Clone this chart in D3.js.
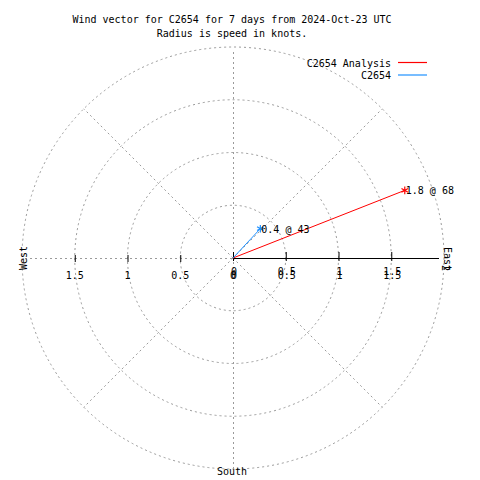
<!DOCTYPE html>
<html>
<head>
<meta charset="utf-8">
<script src="https://cdn.jsdelivr.net/npm/d3@7"></script>
<style>
html,body{margin:0;padding:0;background:#fff;}
text{font-family:"DejaVu Sans Mono",monospace;font-size:10px;fill:#000;}
</style>
</head>
<body>
<svg id="chart" width="480" height="480"></svg>
<script>
// ---- data ----
const titleLines = ["Wind vector for C2654 for 7 days from 2024-Oct-23 UTC", "Radius is speed in knots."];
const seriesNames = ["C2654 Analysis", "C2654"];
const seriesSpeed = [1.75, 0.38];      // knots
const seriesDir = [68.5, 43];          // degrees, compass (clockwise from north)
const seriesLabels = ["1.8 @ 68", "0.4 @ 43"];
const seriesColors = ["#ff0000", "#1e90ff"];
const ringValues = [0.5, 1, 1.5, 2];
const tickValues = [0, 0.5, 1, 1.5];
const tickLabels = ["0", "0.5", "1", "1.5"];
const spokeAngles = [45, 135, 225, 315];

// ---- layout ----
const svg = d3.select("#chart");
const cx = 233, cy = 258;
const r = d3.scaleLinear().domain([0, 2]).range([0, 211]);
const gridColor = "#9a9a9a";

// title
svg.selectAll("text.title").data(titleLines).join("text")
  .attr("class", "title")
  .attr("x", 232).attr("y", (d, i) => 23 + i * 13.5)
  .attr("text-anchor", "middle").text(d => d);

const g = svg.append("g").attr("transform", `translate(${cx},${cy})`);

// rings
g.selectAll("circle.ring").data(ringValues).join("circle")
  .attr("class", "ring").attr("r", d => r(d))
  .attr("fill", "none").attr("stroke", gridColor).attr("stroke-width", 1)
  .attr("stroke-dasharray", "2,3");

// spokes
const pol = (deg, rad) => [rad * Math.sin(deg * Math.PI / 180), -rad * Math.cos(deg * Math.PI / 180)];
g.selectAll("line.spoke").data(spokeAngles).join("line")
  .attr("class", "spoke")
  .attr("x1", 0).attr("y1", 0)
  .attr("x2", d => pol(d, r(2))[0]).attr("y2", d => pol(d, r(2))[1])
  .attr("stroke", gridColor).attr("stroke-dasharray", "2,3");

// vertical axis (dashed)
g.append("line").attr("x1", 0.5).attr("x2", 0.5).attr("y1", -r(2) + 5).attr("y2", r(2))
  .attr("stroke", gridColor).attr("stroke-dasharray", "2,3");
// west axis (dashed)
g.append("line").attr("x1", -r(2) + 3).attr("x2", 0).attr("y1", 0.5).attr("y2", 0.5)
  .attr("stroke", gridColor).attr("stroke-dasharray", "2,3");
// west ticks
g.selectAll("line.wtick").data(tickValues.slice(1)).join("line")
  .attr("class", "wtick")
  .attr("x1", d => -r(d) + 0.5).attr("x2", d => -r(d) + 0.5)
  .attr("y1", -3).attr("y2", 4).attr("stroke", "#000");
g.selectAll("text.wlab").data(tickValues).join("text")
  .attr("class", "wlab")
  .attr("x", d => -r(d)).attr("y", 21)
  .attr("text-anchor", "middle").text((d, i) => tickLabels[i]);

// east axis (solid)
g.append("line").attr("x1", 0).attr("x2", r(2) - 5).attr("y1", 0.5).attr("y2", 0.5)
  .attr("stroke", "#000").attr("stroke-width", 1.2);
g.selectAll("line.etick").data(tickValues).join("line")
  .attr("class", "etick")
  .attr("x1", d => r(d) + 0.5).attr("x2", d => r(d) + 0.5)
  .attr("y1", -6).attr("y2", 3).attr("stroke", "#000");
[17, 21].forEach(yy => {
  g.selectAll(null).data(tickValues).join("text")
    .attr("x", d => r(d) + 1).attr("y", yy)
    .attr("text-anchor", "middle").text((d, i) => tickLabels[i]);
});
g.append("text").attr("transform", `translate(${r(2) - 2},10) rotate(90)`)
  .attr("text-anchor", "middle").text("2");

// direction labels
svg.append("text").attr("transform", `translate(27,258) rotate(-90)`)
  .attr("text-anchor", "middle").text("West");
svg.append("text").attr("transform", `translate(444,259) rotate(90)`)
  .attr("text-anchor", "middle").text("East");
svg.append("text").attr("x", 232).attr("y", 475)
  .attr("text-anchor", "middle").text("South");

// vectors
const vec = seriesSpeed.map((s, i) => ({ s, d: seriesDir[i], label: seriesLabels[i], color: seriesColors[i] }));
g.selectAll("line.vec").data(vec).join("line")
  .attr("class", "vec")
  .attr("x1", 0).attr("y1", 0)
  .attr("x2", d => pol(d.d, r(d.s))[0]).attr("y2", d => pol(d.d, r(d.s))[1])
  .attr("stroke", d => d.color).attr("stroke-width", 1);
g.selectAll("path.star").data(vec).join("path")
  .attr("class", "star")
  .attr("transform", d => `translate(${pol(d.d, r(d.s))[0]},${pol(d.d, r(d.s))[1]})`)
  .attr("d", d3.symbol(d3.symbolAsterisk, 40))
  .attr("fill", "none").attr("stroke", d => d.color).attr("stroke-width", 1.2);
g.selectAll("text.vlab").data(vec).join("text")
  .attr("class", "vlab")
  .attr("x", d => pol(d.d, r(d.s))[0] + 1)
  .attr("y", d => pol(d.d, r(d.s))[1] + 4)
  .text(d => d.label);

// legend
const leg = svg.append("g");
seriesNames.forEach((n, i) => {
  leg.append("text").attr("x", 391).attr("y", 66.5 + i * 12.5)
    .attr("text-anchor", "end").text(n);
  leg.append("line").attr("x1", 398).attr("x2", 427)
    .attr("y1", 62.5 + i * 12.5).attr("y2", 62.5 + i * 12.5)
    .attr("stroke", seriesColors[i]).attr("stroke-width", 1.2);
});
</script>
</body>
</html>
